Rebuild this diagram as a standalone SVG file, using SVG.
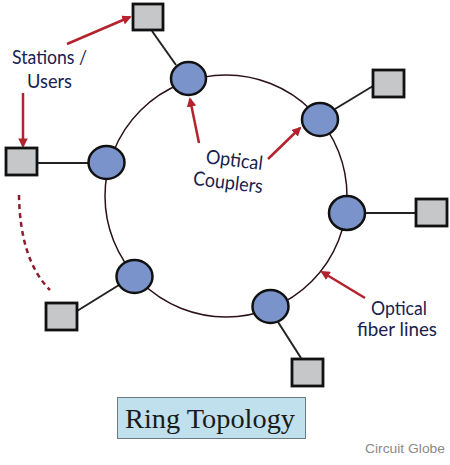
<svg xmlns="http://www.w3.org/2000/svg" width="450" height="465" viewBox="0 0 450 465">
<style>
.coupler{fill:#7b93cb;stroke:#111;stroke-width:2.5}
.station{fill:#c5c7c9;stroke:#111;stroke-width:2.8}
.link{stroke:#222;stroke-width:2;fill:none}
.ring{fill:none;stroke:#2b1218;stroke-width:1.5}
.arrow{stroke:#b4232d;stroke-width:2.5;fill:none;marker-end:url(#ah)}
.lbl{font-family:Lato,"Open Sans",sans-serif;font-size:19.5px;fill:#18224d}
</style>
<defs>
<marker id="ah" viewBox="0 0 10 10" refX="8" refY="5" markerWidth="3.8" markerHeight="3.8" orient="auto" markerUnits="strokeWidth">
<path d="M0,0 L10,5 L0,10 z" fill="#b4232d"/>
</marker>
</defs>
<rect width="450" height="465" fill="#fff"/>
<g id="ring"><circle class="ring" cx="226" cy="196" r="121"/></g>
<g id="connectors">
<line class="link" x1="152" y1="31" x2="176" y2="65"/>
<line class="link" x1="37" y1="163" x2="89" y2="163"/>
<line class="link" x1="335" y1="109" x2="373" y2="86"/>
<line class="link" x1="365" y1="213" x2="416" y2="213"/>
<line class="link" x1="77" y1="311" x2="119" y2="285"/>
<line class="link" x1="278" y1="322" x2="301" y2="358"/>
<path d="M19,195 Q20,260 50,290" fill="none" stroke="#8b1e2e" stroke-width="2.5" stroke-dasharray="5,4"/>
<line class="arrow" x1="67" y1="44" x2="130" y2="17"/>
<line class="arrow" x1="23" y1="93" x2="23" y2="146"/>
<line class="arrow" x1="199" y1="143" x2="190" y2="99"/>
<line class="arrow" x1="268" y1="159" x2="300" y2="128"/>
<line class="arrow" x1="365" y1="298" x2="322" y2="272"/>
</g>
<g id="coupler-top"><ellipse class="coupler" cx="188.5" cy="78.5" rx="17.5" ry="16.5"/></g>
<g id="coupler-left"><ellipse class="coupler" cx="106.5" cy="162.5" rx="18" ry="16.5"/></g>
<g id="coupler-righttop"><ellipse class="coupler" cx="320" cy="119.5" rx="18" ry="16.5"/></g>
<g id="coupler-right"><ellipse class="coupler" cx="347" cy="213" rx="18" ry="17"/></g>
<g id="coupler-lowerleft"><ellipse class="coupler" cx="134.5" cy="276.5" rx="18" ry="16.5"/></g>
<g id="coupler-bottom"><ellipse class="coupler" cx="270.5" cy="306.5" rx="18" ry="16.5"/></g>
<g id="station-top"><rect class="station" x="133" y="4" width="30" height="26"/></g>
<g id="station-left"><rect class="station" x="6" y="148" width="31" height="27"/></g>
<g id="station-righttop"><rect class="station" x="373" y="70" width="31" height="27"/></g>
<g id="station-right"><rect class="station" x="416" y="199" width="31" height="27"/></g>
<g id="station-lowerleft"><rect class="station" x="46" y="303" width="31" height="27"/></g>
<g id="station-bottom"><rect class="station" x="292" y="359" width="31" height="27"/></g>
<g id="labels">
<text class="lbl" x="12" y="64" textLength="75" lengthAdjust="spacingAndGlyphs">Stations /</text>
<text class="lbl" x="27" y="88" textLength="45" lengthAdjust="spacingAndGlyphs">Users</text>
<g transform="rotate(7 228 175)">
<text class="lbl" x="204" y="166" textLength="57" lengthAdjust="spacingAndGlyphs">Optical</text>
<text class="lbl" x="194" y="189" textLength="70" lengthAdjust="spacingAndGlyphs">Couplers</text>
</g>
<text class="lbl" x="371" y="315" textLength="56" lengthAdjust="spacingAndGlyphs">Optical</text>
<text class="lbl" x="357" y="336" textLength="80" lengthAdjust="spacingAndGlyphs">fiber lines</text>
</g>
<g id="title">
<rect x="117.5" y="397.5" width="188" height="41" fill="#bfe0ec" stroke="#6a7a80" stroke-width="1"/>
<text x="125" y="428" font-family="'Liberation Serif',serif" font-size="27" fill="#1a1a1a" textLength="170" lengthAdjust="spacingAndGlyphs">Ring Topology</text>
</g>
<text x="365" y="453" font-family="'Liberation Sans',Arial,sans-serif" font-size="13" fill="#8a8a8a" textLength="80" lengthAdjust="spacingAndGlyphs">Circuit Globe</text>
</svg>
